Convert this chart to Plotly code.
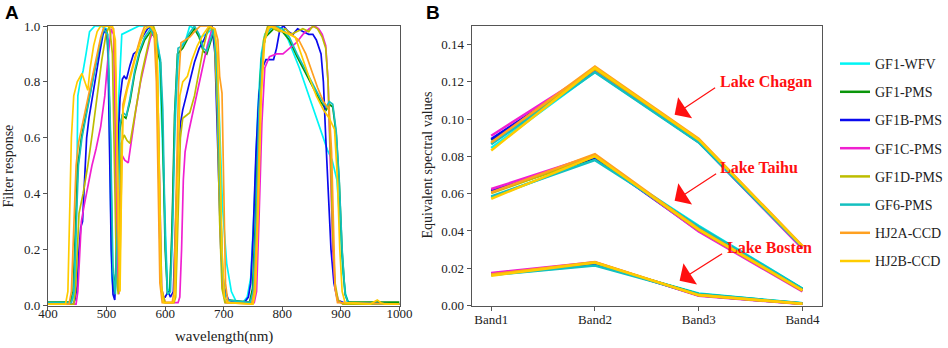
import plotly.graph_objects as go

# ---------------- Panel A: filter response curves ----------------
wl_gf1wfv = [400, 438, 442, 446, 449, 451, 455, 460, 465, 471, 480, 490, 500, 503, 506, 509, 512, 515, 518, 521, 526, 535, 545, 555, 565, 575, 585, 590, 595, 600, 604, 607, 611, 616, 622, 628, 635, 642, 650, 660, 670, 680, 686, 692, 698, 705, 713, 722, 732, 740, 746, 752, 758, 764, 770, 778, 790, 800, 810, 829, 850, 877, 885, 893, 898, 903, 908, 913, 1000]
rs_gf1wfv = [0.01, 0.01, 0.02, 0.05, 0.4, 0.75, 0.8, 0.84, 0.9, 0.98, 1.0, 1.0, 0.99, 0.9, 0.5, 0.1, 0.05, 0.08, 0.3, 0.75, 0.97, 0.98, 0.99, 1.0, 1.0, 0.99, 0.97, 0.9, 0.6, 0.25, 0.06, 0.04, 0.2, 0.6, 0.88, 0.93, 0.95, 1.0, 0.99, 0.96, 0.97, 0.99, 0.95, 0.7, 0.35, 0.15, 0.05, 0.01, 0.01, 0.03, 0.1, 0.35, 0.7, 0.9, 0.97, 0.99, 1.0, 0.99, 0.95, 0.85, 0.72, 0.556, 0.52, 0.45, 0.3, 0.12, 0.04, 0.01, 0.005]

wl_gf1pms = [400, 438, 443, 447, 451, 457, 464, 471, 479, 487, 494, 501, 506, 510, 514, 518, 522, 527, 533, 540, 548, 556, 565, 575, 582, 588, 592, 596, 600, 604, 608, 612, 616, 621, 630, 640, 650, 658, 665, 671, 677, 683, 688, 693, 698, 703, 744, 749, 754, 759, 764, 771, 785, 800, 812, 825, 840, 852, 865, 875, 880, 886, 892, 897, 902, 907, 912, 1000]
rs_gf1pms = [0.012, 0.012, 0.05, 0.3, 0.5, 0.6, 0.67, 0.75, 0.84, 0.92, 0.98, 0.98, 0.65, 0.15, 0.04, 0.25, 0.62, 0.68, 0.67, 0.73, 0.83, 0.9, 0.95, 0.98, 0.96, 0.9, 0.87, 0.6, 0.2, 0.04, 0.05, 0.3, 0.68, 0.9, 0.92, 0.96, 0.99, 0.96, 0.91, 0.9, 0.94, 0.98, 0.84, 0.42, 0.1, 0.02, 0.012, 0.06, 0.3, 0.68, 0.88, 0.96, 0.99, 0.98, 0.95, 0.89, 0.83, 0.78, 0.73, 0.7, 0.72, 0.71, 0.61, 0.44, 0.19, 0.04, 0.012, 0.012]

wl_gf1b = [400, 443, 446, 450, 453, 456, 459, 462, 466, 470, 476, 482, 488, 494, 498, 502, 505, 508, 511, 514, 517, 520, 523, 527, 530, 534, 540, 546, 552, 558, 564, 570, 576, 582, 586, 589, 592, 595, 600, 605, 609, 614, 618, 622, 626, 630, 636, 642, 650, 658, 666, 674, 680, 685, 690, 695, 700, 708, 720, 735, 742, 746, 750, 755, 760, 766, 772, 778, 785, 790, 796, 802, 810, 818, 826, 835, 845, 852, 858, 866, 870, 874, 878, 883, 888, 894, 905, 1000]
rs_gf1b = [0.005, 0.005, 0.02, 0.07, 0.2, 0.28, 0.3, 0.45, 0.6, 0.67, 0.75, 0.83, 0.9, 0.97, 0.99, 0.95, 0.6, 0.2, 0.04, 0.02, 0.15, 0.6, 0.74, 0.81, 0.82, 0.81, 0.86, 0.9, 0.91, 0.95, 0.97, 0.99, 1.0, 0.97, 0.85, 0.45, 0.1, 0.03, 0.03, 0.05, 0.03, 0.05, 0.3, 0.55, 0.65, 0.7, 0.75, 0.8, 0.87, 0.92, 0.95, 0.99, 1.0, 0.9, 0.55, 0.2, 0.07, 0.02, 0.01, 0.01, 0.03, 0.08, 0.25, 0.55, 0.75, 0.85, 0.88, 0.88, 0.88, 0.92, 0.99, 1.0, 0.98, 0.97, 0.99, 0.98, 0.97, 0.97, 0.95, 0.9, 0.8, 0.6, 0.4, 0.2, 0.08, 0.02, 0.01, 0.005]

wl_gf1c = [400, 448, 451, 454, 457, 462, 468, 475, 482, 490, 497, 503, 508, 512, 515, 518, 521, 523, 526, 531, 537, 543, 550, 558, 566, 574, 580, 585, 588, 591, 594, 600, 622, 625, 628, 631, 634, 640, 648, 656, 664, 672, 680, 685, 690, 694, 698, 703, 752, 756, 760, 765, 770, 778, 790, 801, 812, 824, 835, 846, 855, 862, 868, 874, 878, 882, 886, 890, 896, 905, 1000]
rs_gf1c = [0.005, 0.005, 0.05, 0.2, 0.3, 0.36, 0.43, 0.5, 0.56, 0.64, 0.75, 0.9, 0.99, 0.97, 0.6, 0.15, 0.04, 0.4, 0.54, 0.52, 0.51, 0.6, 0.7, 0.8, 0.88, 0.95, 0.99, 0.97, 0.7, 0.3, 0.06, 0.01, 0.01, 0.03, 0.2, 0.45, 0.55, 0.62, 0.7, 0.78, 0.86, 0.93, 0.99, 0.97, 0.7, 0.3, 0.06, 0.01, 0.01, 0.05, 0.3, 0.65, 0.85, 0.89, 0.9, 0.9, 0.92, 0.94, 0.97, 0.99, 1.0, 0.99, 0.97, 0.93, 0.8, 0.5, 0.2, 0.06, 0.015, 0.005, 0.005]

wl_gf1d = [400, 444, 447, 450, 453, 460, 468, 476, 484, 492, 499, 505, 510, 514, 517, 520, 522, 525, 530, 535, 540, 546, 553, 560, 568, 575, 580, 585, 588, 591, 594, 600, 615, 618, 622, 626, 630, 636, 642, 650, 658, 665, 672, 678, 684, 689, 693, 697, 702, 748, 752, 757, 762, 768, 775, 785, 795, 805, 815, 825, 835, 845, 852, 860, 868, 874, 878, 882, 886, 890, 895, 903, 1000]
rs_gf1d = [0.005, 0.005, 0.05, 0.2, 0.33, 0.4, 0.5, 0.62, 0.75, 0.88, 0.97, 1.0, 0.9, 0.5, 0.1, 0.04, 0.3, 0.58, 0.61, 0.59, 0.58, 0.65, 0.74, 0.83, 0.91, 0.97, 1.0, 0.97, 0.7, 0.3, 0.06, 0.01, 0.01, 0.03, 0.3, 0.6, 0.67, 0.68, 0.69, 0.75, 0.84, 0.92, 0.98, 1.0, 0.96, 0.7, 0.3, 0.06, 0.01, 0.01, 0.05, 0.35, 0.75, 0.95, 1.0, 0.99, 0.98, 0.99, 0.97, 0.98, 0.99, 0.98, 1.0, 0.99, 0.96, 0.92, 0.8, 0.55, 0.25, 0.08, 0.02, 0.005, 0.005]

wl_gf6 = [400, 440, 444, 448, 452, 458, 465, 472, 480, 488, 495, 502, 507, 511, 515, 519, 523, 528, 534, 540, 548, 556, 565, 575, 582, 588, 592, 596, 600, 604, 609, 613, 617, 622, 630, 640, 650, 658, 665, 671, 677, 683, 688, 693, 698, 703, 745, 750, 755, 760, 765, 772, 785, 800, 812, 825, 840, 852, 865, 875, 880, 886, 892, 897, 902, 907, 912, 1000]
rs_gf6 = [0.01, 0.01, 0.05, 0.3, 0.5, 0.6, 0.68, 0.76, 0.85, 0.93, 0.99, 0.97, 0.6, 0.12, 0.04, 0.3, 0.65, 0.69, 0.68, 0.74, 0.84, 0.91, 0.96, 0.99, 0.96, 0.92, 0.88, 0.7, 0.25, 0.04, 0.05, 0.3, 0.7, 0.92, 0.93, 0.97, 1.0, 0.97, 0.92, 0.91, 0.95, 0.99, 0.85, 0.45, 0.12, 0.02, 0.01, 0.05, 0.3, 0.7, 0.9, 0.97, 1.0, 0.99, 0.96, 0.9, 0.84, 0.79, 0.74, 0.71, 0.73, 0.72, 0.62, 0.45, 0.2, 0.04, 0.01, 0.005]

wl_hj2a = [400, 436, 440, 444, 448, 452, 456, 462, 468, 476, 484, 490, 496, 505, 512, 516, 519, 522, 525, 528, 535, 542, 550, 558, 565, 575, 581, 585, 588, 591, 595, 612, 615, 619, 623, 627, 635, 642, 650, 660, 675, 685, 690, 693, 697, 700, 703, 707, 748, 752, 757, 762, 768, 775, 785, 800, 815, 828, 840, 850, 860, 870, 880, 884, 887, 890, 894, 1000]
rs_hj2a = [0.005, 0.005, 0.05, 0.3, 0.5, 0.58, 0.62, 0.68, 0.73, 0.81, 0.89, 0.96, 1.0, 1.0, 0.99, 0.8, 0.3, 0.05, 0.4, 0.72, 0.78, 0.84, 0.9, 0.96, 1.0, 1.0, 0.98, 0.8, 0.4, 0.08, 0.01, 0.01, 0.05, 0.4, 0.8, 0.94, 0.95, 0.96, 0.98, 1.0, 1.0, 0.99, 0.95, 0.82, 0.76, 0.4, 0.08, 0.01, 0.005, 0.05, 0.3, 0.7, 0.93, 0.99, 1.0, 0.98, 0.97, 0.95, 0.9, 0.84, 0.78, 0.73, 0.7, 0.55, 0.25, 0.06, 0.01, 0.005]

wl_hj2b = [400, 430, 434, 437, 440, 444, 450, 458, 463, 468, 472, 478, 484, 490, 500, 510, 515, 518, 521, 523, 525, 528, 535, 543, 551, 559, 566, 575, 583, 587, 590, 593, 597, 614, 617, 621, 625, 630, 638, 646, 655, 665, 675, 684, 689, 693, 697, 701, 706, 750, 754, 759, 764, 770, 778, 790, 800, 812, 822, 832, 845, 858, 870, 880, 889, 894, 898, 902, 907, 950, 956, 962, 968, 975, 1000]
rs_hj2b = [0.005, 0.005, 0.05, 0.3, 0.6, 0.75, 0.8, 0.83, 0.8, 0.77, 0.85, 0.93, 0.98, 1.0, 1.0, 1.0, 0.95, 0.6, 0.2, 0.05, 0.35, 0.7, 0.77, 0.84, 0.9, 0.95, 0.99, 1.0, 0.98, 0.85, 0.4, 0.08, 0.01, 0.01, 0.04, 0.4, 0.75, 0.8, 0.82, 0.88, 0.93, 0.97, 1.0, 0.99, 0.9, 0.6, 0.2, 0.03, 0.01, 0.005, 0.05, 0.35, 0.75, 0.95, 1.0, 0.99, 0.98, 0.97, 0.96, 0.9, 0.82, 0.75, 0.7, 0.67, 0.63, 0.45, 0.2, 0.05, 0.01, 0.005, 0.012, 0.02, 0.01, 0.005, 0.005]

# ---------------- Panel B: equivalent spectral values ----------------
bands = ["Band1", "Band2", "Band3", "Band4"]
sensors = ["GF1-WFV", "GF1-PMS", "GF1B-PMS", "GF1C-PMS", "GF1D-PMS", "GF6-PMS", "HJ2A-CCD", "HJ2B-CCD"]
colors = ["#00F5F5", "#0A960A", "#0A0AEE", "#F020D0", "#BDBD00", "#14C0C0", "#FFA020", "#FFCC00"]

chagan_gf1wfv = [0.0845, 0.1255, 0.0878, 0.0312]
chagan_gf1pms = [0.0888, 0.1258, 0.0880, 0.0314]
chagan_gf1b = [0.0893, 0.1260, 0.0878, 0.0310]
chagan_gf1c = [0.0911, 0.1265, 0.0878, 0.0305]
chagan_gf1d = [0.0870, 0.1270, 0.0888, 0.0316]
chagan_gf6 = [0.0865, 0.1252, 0.0875, 0.0313]
chagan_hj2a = [0.0875, 0.1282, 0.0895, 0.0320]
chagan_hj2b = [0.0832, 0.1275, 0.0890, 0.0318]

taihu_gf1wfv = [0.0580, 0.0790, 0.0428, 0.0091]
taihu_gf1pms = [0.0612, 0.0793, 0.0418, 0.0088]
taihu_gf1b = [0.0617, 0.0795, 0.0402, 0.0079]
taihu_gf1c = [0.0625, 0.0805, 0.0397, 0.0075]
taihu_gf1d = [0.0603, 0.0800, 0.0405, 0.0080]
taihu_gf6 = [0.0585, 0.0780, 0.0424, 0.0090]
taihu_hj2a = [0.0607, 0.0812, 0.0410, 0.0082]
taihu_hj2b = [0.0573, 0.0802, 0.0408, 0.0082]

bosten_gf1wfv = [0.0164, 0.0218, 0.0064, 0.0012]
bosten_gf1pms = [0.0170, 0.0224, 0.0060, 0.0011]
bosten_gf1b = [0.0171, 0.0226, 0.0055, 0.0009]
bosten_gf1c = [0.0175, 0.0232, 0.0052, 0.0008]
bosten_gf1d = [0.0166, 0.0230, 0.0055, 0.0009]
bosten_gf6 = [0.0164, 0.0214, 0.0062, 0.0012]
bosten_hj2a = [0.0166, 0.0234, 0.0056, 0.0010]
bosten_hj2b = [0.0160, 0.0231, 0.0056, 0.0010]

panel_a = [
    (wl_gf1wfv, rs_gf1wfv), (wl_gf1pms, rs_gf1pms), (wl_gf1b, rs_gf1b), (wl_gf1c, rs_gf1c),
    (wl_gf1d, rs_gf1d), (wl_gf6, rs_gf6), (wl_hj2a, rs_hj2a), (wl_hj2b, rs_hj2b),
]
chagan = [chagan_gf1wfv, chagan_gf1pms, chagan_gf1b, chagan_gf1c, chagan_gf1d, chagan_gf6, chagan_hj2a, chagan_hj2b]
taihu = [taihu_gf1wfv, taihu_gf1pms, taihu_gf1b, taihu_gf1c, taihu_gf1d, taihu_gf6, taihu_hj2a, taihu_hj2b]
bosten = [bosten_gf1wfv, bosten_gf1pms, bosten_gf1b, bosten_gf1c, bosten_gf1d, bosten_gf6, bosten_hj2a, bosten_hj2b]

W, H = 948, 348
SERIF = "Liberation Serif, Times New Roman, serif"

fig = go.Figure()
for i, name in enumerate(sensors):
    wl, rs = panel_a[i]
    fig.add_trace(go.Scatter(x=wl, y=rs, mode="lines", name=name, legendgroup=name,
                             showlegend=False, line=dict(color=colors[i], width=1.7),
                             xaxis="x", yaxis="y"))
for lake_idx, lake in enumerate([chagan, taihu, bosten]):
    for i, name in enumerate(sensors):
        fig.add_trace(go.Scatter(x=bands, y=lake[i], mode="lines", name=name, legendgroup=name,
                                 showlegend=(lake_idx == 0), line=dict(color=colors[i], width=2.5),
                                 xaxis="x2", yaxis="y2"))

def px_x(p):
    return p / W

def px_y(p):
    return 1 - p / H

ydom = [px_y(305.5), px_y(26)]
axis_common = dict(showline=True, linecolor="#555", linewidth=1, mirror=True, ticks="outside",
                   ticklen=4, tickcolor="#555", showgrid=False, zeroline=False,
                   tickfont=dict(family=SERIF, size=13, color="#222"), automargin=False)

fig.update_layout(
    width=W, height=H, margin=dict(l=0, r=0, t=0, b=0),
    paper_bgcolor="white", plot_bgcolor="white",
    xaxis=dict(domain=[px_x(48), px_x(400)], range=[400, 1000], dtick=100, anchor="y",
               ticklabelstandoff=-8, **axis_common),
    yaxis=dict(domain=ydom, range=[0, 1.0], dtick=0.2, tickformat=".1f", anchor="x", **axis_common),
    xaxis2=dict(domain=[px_x(472), px_x(823)], type="category", categoryorder="array",
                categoryarray=bands, range=[-0.19, 3.19], anchor="y2", ticklabelstandoff=-2, **axis_common),
    yaxis2=dict(domain=ydom, range=[0, 0.15], tickvals=[0, 0.02, 0.04, 0.06, 0.08, 0.10, 0.12, 0.14],
                tickformat=".2f", anchor="x2", **axis_common),
    legend=dict(x=px_x(836), y=px_y(48), xanchor="left", yanchor="top",
                font=dict(family=SERIF, size=14, color="#222"), tracegroupgap=7,
                bgcolor="rgba(0,0,0,0)", itemwidth=30),
    showlegend=True,
)

ann = []
ann.append(dict(text="<b>A</b>", x=px_x(3), y=px_y(0), xref="paper", yref="paper", xanchor="left", yanchor="top",
                showarrow=False, font=dict(family="Liberation Sans, Arial", size=19, color="black")))
ann.append(dict(text="<b>B</b>", x=px_x(424), y=px_y(0), xref="paper", yref="paper", xanchor="left", yanchor="top",
                showarrow=False, font=dict(family="Liberation Sans, Arial", size=19, color="black")))
ann.append(dict(text="Filter response", x=px_x(9), y=px_y(165.5), xref="paper", yref="paper", textangle=-90,
                xanchor="center", yanchor="middle",
                showarrow=False, font=dict(family=SERIF, size=14, color="#222")))
ann.append(dict(text="wavelength(nm)", x=px_x(224), y=px_y(336), xref="paper", yref="paper",
                xanchor="center", yanchor="middle",
                showarrow=False, font=dict(family=SERIF, size=15, color="#222")))
ann.append(dict(text="Equivalent spectral values", x=px_x(427.5), y=px_y(165.5), xref="paper", yref="paper",
                xanchor="center", yanchor="middle",
                textangle=-90, showarrow=False, font=dict(family=SERIF, size=14, color="#222")))

lake_labels = [("Lake Chagan", 2.19, 0.1201), ("Lake Taihu", 2.19, 0.074), ("Lake Bosten", 2.25, 0.031)]
for txt, xx, yy in lake_labels:
    ann.append(dict(text="<b>" + txt + "</b>", x=xx, y=yy, xref="x2", yref="y2", xanchor="left", yanchor="middle",
                    showarrow=False, font=dict(family=SERIF, size=16, color="#FF1010")))
arrows = [(1.768, 0.1024, 42, -28), (1.768, 0.0562, 43, -28), (1.816, 0.0133, 44, -28)]
for hx, hy, ax, ay in arrows:
    ann.append(dict(text="", x=hx, y=hy, xref="x2", yref="y2", ax=ax, ay=ay, showarrow=True,
                    arrowhead=1, arrowsize=3.5, arrowwidth=1.2, arrowcolor="#FF1010"))
fig.update_layout(annotations=ann)

fig.write_html("out.html", config={"displayModeBar": False},
               post_script="document.body.style.margin='0px';document.body.style.overflow='hidden';")
